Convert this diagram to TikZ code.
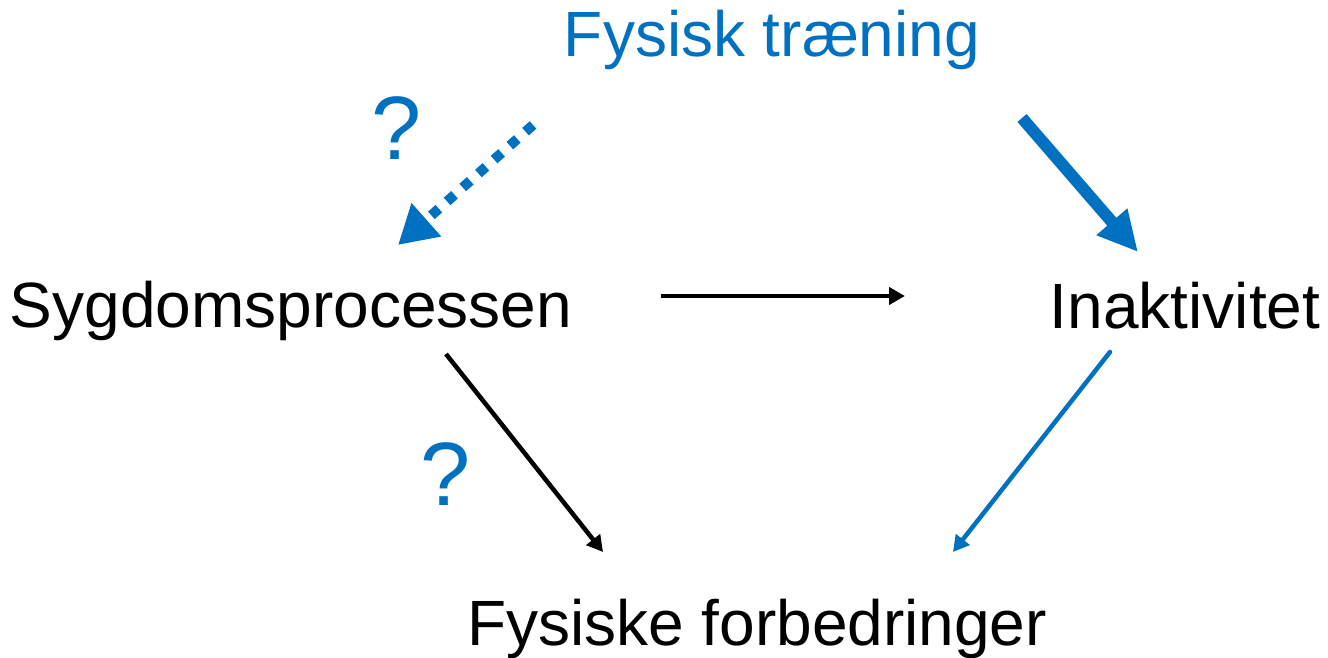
\documentclass[tikz,border=0pt]{standalone}
\usepackage{fontspec}
\setmainfont{Liberation Sans}
\usetikzlibrary{arrows.meta}
\definecolor{myblue}{HTML}{0070C0}
\begin{document}
\begin{tikzpicture}[x=1pt,y=-1pt,
  lbl/.style={font=\fontsize{64}{70}\selectfont, inner sep=0pt, anchor=base},
  bluelbl/.style={lbl, text=myblue},
  qmark/.style={bluelbl, font=\fontsize{90}{96}\selectfont},
  thinblack/.style={draw=black, line width=4.5pt, -{Triangle[length=16pt,width=17pt]}},
  thinblue/.style={draw=myblue, line width=4.5pt, line cap=round, -{Triangle[length=16pt,width=17pt]}},
  thickblue/.style={draw=myblue, line width=12pt, -{Triangle[length=40pt,width=38pt]}},
  dotblue/.style={draw=myblue, line width=10pt, dash pattern=on 10pt off 11pt, -{Triangle[length=38pt,width=42pt]}}
]
\useasboundingbox (0,0) rectangle (1328,658);
\node[bluelbl] (ft) at (772,57) {Fysisk træning};
\node[lbl] (sp) at (291,327) {Sygdomsprocessen};
\node[lbl] (ia) at (1185,328) {Inaktivitet};
\node[lbl] (ff) at (757,645) {Fysiske forbedringer};
\node[qmark] (q1) at (397,160) {?};
\node[qmark] (q2) at (446,505) {?};

\coordinate (d1) at (533,125); \coordinate (d2) at (398,245);
\coordinate (t1) at (1022,118); \coordinate (t2) at (1138,252);
\coordinate (h1) at (661,296); \coordinate (h2) at (905,296);
\coordinate (s1) at (446,354); \coordinate (s2) at (603,552);
\coordinate (b1) at (1110,352); \coordinate (b2) at (953,552);

\draw[dotblue] (d1) -- (d2);
\draw[thickblue] (t1) -- (t2);
\draw[thinblack] (h1) -- (h2);
\draw[thinblack] (s1) -- (s2);
\draw[thinblue] (b1) -- (b2);
\end{tikzpicture}
\end{document}
